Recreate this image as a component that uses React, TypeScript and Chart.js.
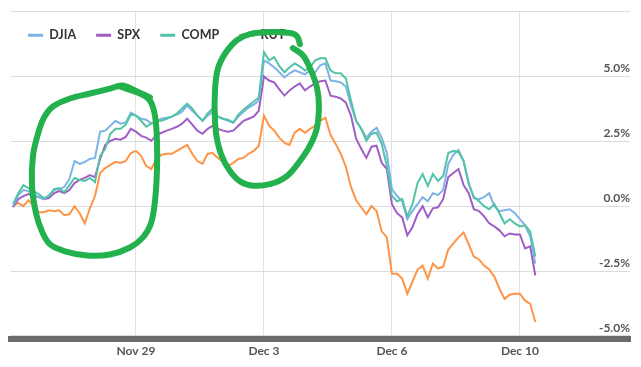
import React, { useEffect, useRef } from 'react';
import { Chart, registerables } from 'chart.js';

Chart.register(...registerables);

// ---- Data ----
const seriesNames = ['DJIA', 'SPX', 'COMP', 'RUT'];
const seriesColors = ['#7DB3E6', '#A05DC6', '#52C3A7', '#FF9446'];

// x positions (sampling index along the trading-time axis)
const timeIndex = Array.from({ length: 103 }, (_, i) => i + 1);

const xTickPositions = [25, 50, 75, 100];
const xTickLabels = ['Nov 29', 'Dec 3', 'Dec 6', 'Dec 10'];

const yTickValues = [-5, -2.5, 0, 2.5, 5, 7.5];
const yTickLabels = ['-5.0%', '-2.5%', '0.0%', '2.5%', '5.0%', ''];

const DJIA = [
  0.00, 0.43, 0.62, 0.58, 0.47, 0.35, 0.27, 0.43, 0.62, 0.66,
  0.74, 1.05, 1.74, 1.63, 1.71, 1.82, 1.86, 2.87, 2.91, 3.10,
  3.29, 3.18, 3.22, 3.60, 3.49, 3.37, 3.33, 3.18, 3.29, 3.37,
  3.41, 3.45, 3.53, 3.64, 3.88, 3.68, 3.49, 3.29, 3.49, 3.64,
  3.45, 3.37, 3.29, 3.22, 3.45, 3.64, 3.80, 3.91, 4.07, 5.62,
  5.50, 5.35, 5.16, 4.96, 5.12, 5.23, 5.16, 5.08, 5.23, 5.16,
  5.43, 5.50, 4.84, 4.81, 4.77, 4.61, 3.88, 3.29, 2.98, 2.64,
  2.87, 3.02, 2.64, 2.05, 0.66, 0.39, 0.19, -0.50, -0.19, 0.08,
  0.35, 0.19, 0.50, 0.43, 0.62, 1.63, 1.98, 2.17, 1.74, 0.89,
  0.31, 0.27, 0.35, 0.50, 0.00, -0.19, -0.16, -0.12, -0.27, -0.50,
  -0.74, -1.16, -2.21,
];

const SPX = [
  -0.04, 0.27, 0.39, 0.47, 0.39, 0.35, 0.27, 0.31, 0.50, 0.58,
  0.50, 0.62, 0.89, 1.01, 1.09, 1.20, 1.12, 1.82, 2.36, 2.52,
  2.60, 2.56, 2.67, 2.98, 2.87, 2.71, 2.64, 2.52, 2.75, 2.83,
  2.91, 2.98, 3.06, 3.18, 3.37, 3.14, 2.91, 2.79, 2.98, 3.10,
  2.98, 2.91, 2.87, 2.91, 3.10, 3.29, 3.37, 3.45, 3.68, 5.00,
  4.84, 4.77, 4.50, 4.26, 4.46, 4.61, 4.73, 4.46, 4.61, 4.73,
  4.81, 4.84, 4.26, 4.22, 4.15, 3.99, 3.49, 2.60, 2.21, 1.86,
  2.29, 2.33, 1.67, 1.43, 0.08, -0.27, -0.43, -1.12, -0.81, -0.31,
  0.00, -0.43, -0.08, -0.04, 0.27, 1.12, 1.28, 1.43, 0.81, 0.50,
  -0.12, -0.19, -0.39, -0.66, -0.78, -0.93, -1.16, -1.05, -1.09, -1.09,
  -1.63, -1.55, -2.67,
];

const COMP = [
  0.08, 0.50, 0.81, 0.70, 0.58, 0.47, 0.31, 0.39, 0.66, 0.70,
  0.54, 0.81, 1.09, 1.01, 0.97, 1.09, 0.93, 1.94, 2.21, 2.79,
  2.98, 2.98, 3.14, 3.53, 3.49, 3.29, 3.06, 3.18, 3.29, 3.29,
  3.37, 3.45, 3.57, 3.76, 3.95, 3.76, 3.49, 3.29, 3.57, 3.76,
  3.45, 3.37, 3.33, 3.22, 3.53, 3.72, 3.88, 4.03, 4.19, 5.93,
  5.62, 5.74, 5.39, 5.16, 5.35, 5.50, 5.39, 5.23, 5.35, 5.62,
  5.70, 5.70, 5.23, 5.12, 5.12, 4.92, 4.07, 3.29, 2.98, 2.52,
  2.79, 2.83, 2.40, 1.55, 0.39, 0.19, 0.27, -0.39, 0.08, 0.89,
  1.24, 0.78, 1.24, 0.97, 1.16, 2.05, 2.13, 2.09, 1.74, 0.85,
  0.35, 0.19, 0.00, -0.12, 0.08, -0.27, -0.66, -0.50, -0.66, -0.78,
  -0.74, -0.97, -1.94,
];

const RUT = [
  0.04, 0.12, 0.00, 0.23, 0.00, -0.23, -0.23, -0.16, -0.19, -0.16,
  -0.35, -0.31, 0.00, -0.27, -0.66, -0.08, 0.39, 1.28, 1.47, 1.59,
  1.71, 1.67, 1.74, 2.05, 2.13, 1.94, 1.55, 1.43, 1.82, 1.98,
  2.02, 2.02, 2.13, 2.25, 2.36, 2.02, 1.74, 1.63, 2.02, 2.05,
  1.86, 1.71, 1.55, 1.67, 1.82, 1.86, 2.02, 2.13, 2.33, 3.49,
  3.10, 2.91, 2.64, 2.44, 2.36, 2.83, 2.98, 2.83, 2.98, 3.10,
  3.29, 3.41, 2.75, 2.40, 2.02, 1.51, 0.74, 0.23, -0.04, -0.31,
  0.00, -0.19, -0.97, -1.20, -2.60, -2.60, -2.79, -3.37, -2.91, -2.44,
  -2.29, -2.79, -2.21, -2.40, -2.33, -1.67, -1.43, -1.20, -1.01, -1.47,
  -1.94, -2.05, -2.29, -2.44, -2.71, -3.18, -3.57, -3.41, -3.37, -3.37,
  -3.64, -3.76, -4.46,
];

// Hand-drawn green annotation loops (in axis units)
const loop1X = [21.88, 25.78, 27.73, 28.71, 29.10, 29.10, 28.71, 27.93, 26.37, 23.83, 19.92, 15.43, 11.13, 8.20, 6.64, 5.47, 4.69, 4.88, 5.86, 7.03, 8.79, 12.11, 16.02, 19.92, 22.27, 24.80, 27.73];
const loop1Y = [4.61, 4.34, 4.07, 3.49, 2.52, 1.36, 0.19, -0.66, -1.20, -1.59, -1.86, -1.90, -1.74, -1.47, -0.97, -0.27, 0.78, 1.94, 2.79, 3.41, 3.84, 4.15, 4.34, 4.53, 4.65, 4.46, 4.19];
const loop2X = [55.66, 57.62, 59.18, 60.35, 60.74, 60.35, 58.98, 57.03, 54.49, 51.17, 47.27, 44.73, 42.38, 41.02, 40.43, 40.43, 41.02, 42.58, 44.73, 47.27, 51.17, 55.08, 56.45, 57.03];
const loop2Y = [6.09, 5.81, 5.23, 4.57, 3.88, 3.02, 2.33, 1.74, 1.16, 0.85, 0.81, 1.05, 1.67, 2.40, 3.29, 4.46, 5.31, 5.93, 6.40, 6.63, 6.71, 6.67, 6.55, 6.24];

const seriesValues = [DJIA, SPX, COMP, RUT];
const seriesOrder = [2, 3, 1, 4];

const FONT = 'Lato, "Open Sans", "DejaVu Sans", sans-serif';

const overlayLegend = {
  id: 'overlayLegend',
  afterInit(chart: any) {
    const lg = chart.legend;
    if (!lg) return;
    const origFit = lg.fit.bind(lg);
    lg.fit = function () {
      origFit();
      this.height = 0;
    };
  },
  afterLayout(chart: any) {
    const lg = chart.legend;
    if (!lg) return;
    lg.left = 0;
    lg.right = chart.width;
    lg.top = 1;
    lg.bottom = 49;
    lg.width = chart.width;
    lg.height = 48;
  },
};

export default function App() {
  const ref = useRef<HTMLCanvasElement>(null);

  useEffect(() => {
    if (!ref.current) return;
    const datasets: any[] = seriesNames.map((name, k) => ({
      label: name,
      data: timeIndex.map((x, i) => ({ x, y: seriesValues[k][i] })),
      borderColor: seriesColors[k],
      backgroundColor: seriesColors[k],
      borderWidth: 2,
      pointRadius: 0,
      tension: 0,
      fill: false,
      order: seriesOrder[k],
    }));
    [[loop1X, loop1Y], [loop2X, loop2Y]].forEach(([xs, ys], n) => {
      datasets.push({
        label: 'mark' + n,
        data: xs.map((x, i) => ({ x, y: ys[i] })),
        borderColor: '#22B14C',
        backgroundColor: '#22B14C',
        borderWidth: 6,
        pointRadius: 0,
        tension: 0.35,
        fill: false,
        order: 0,
        borderCapStyle: 'round',
        borderJoinStyle: 'round',
      });
    });

    const chart = new Chart(ref.current, {
      type: 'line',
      data: { datasets },
      plugins: [overlayLegend],
      options: {
        animation: false,
        responsive: false,
        events: [],
        layout: { padding: { left: 3, right: 3, top: 3.5, bottom: 0.6 } },
        plugins: {
          tooltip: { enabled: false },
          legend: {
            display: true,
            position: 'top',
            align: 'start',
            labels: {
              boxWidth: 15,
              boxHeight: 3,
              padding: 20,
              color: '#333333',
              font: { family: FONT, size: 12.5, weight: 'bold' },
              filter: (item: any) => item.datasetIndex < seriesNames.length,
              sort: (a: any, b: any) => a.datasetIndex - b.datasetIndex,
              generateLabels: (c: any) =>
                (Chart.defaults.plugins.legend.labels.generateLabels as any)(c).map((it: any) => ({
                  ...it,
                  fillStyle: it.strokeStyle,
                  lineWidth: 0,
                })),
            },
          },
        },
        scales: {
          x: {
            type: 'linear',
            min: 0.59,
            max: 121.5,
            afterBuildTicks: (axis: any) => {
              axis.ticks = xTickPositions.map((v) => ({ value: v }));
            },
            ticks: {
              autoSkip: false,
              maxRotation: 0,
              padding: 5,
              color: '#555555',
              font: { family: FONT, size: 12, weight: 'bold' },
              callback: (v: any) => {
                const k = xTickPositions.indexOf(Number(v));
                return k >= 0 ? xTickLabels[k] : '';
              },
            },
            grid: { color: '#e2e2e2', lineWidth: 1, drawTicks: false },
            border: { display: true, color: '#6b6b6b', width: 6 },
          },
          y: {
            type: 'linear',
            position: 'right',
            min: -5.116,
            max: 7.5,
            afterBuildTicks: (axis: any) => {
              axis.ticks = yTickValues.map((v) => ({ value: v }));
            },
            ticks: {
              mirror: true,
              padding: 0,
              labelOffset: -8,
              color: '#555555',
              font: { family: FONT, size: 12, weight: 'bold', lineHeight: 0.2 },
              callback: (v: any) => {
                const k = yTickValues.indexOf(Number(v));
                return k >= 0 ? yTickLabels[k] : '';
              },
            },
            grid: { color: '#dcdcdc', lineWidth: 1, drawTicks: false },
            border: { display: false },
          },
        },
      } as any,
    });
    return () => chart.destroy();
  }, []);

  return (
    <div style={{ width: 625, height: 356 }}>
      <canvas ref={ref} width={625} height={356} style={{ display: 'block' }} />
    </div>
  );
}
